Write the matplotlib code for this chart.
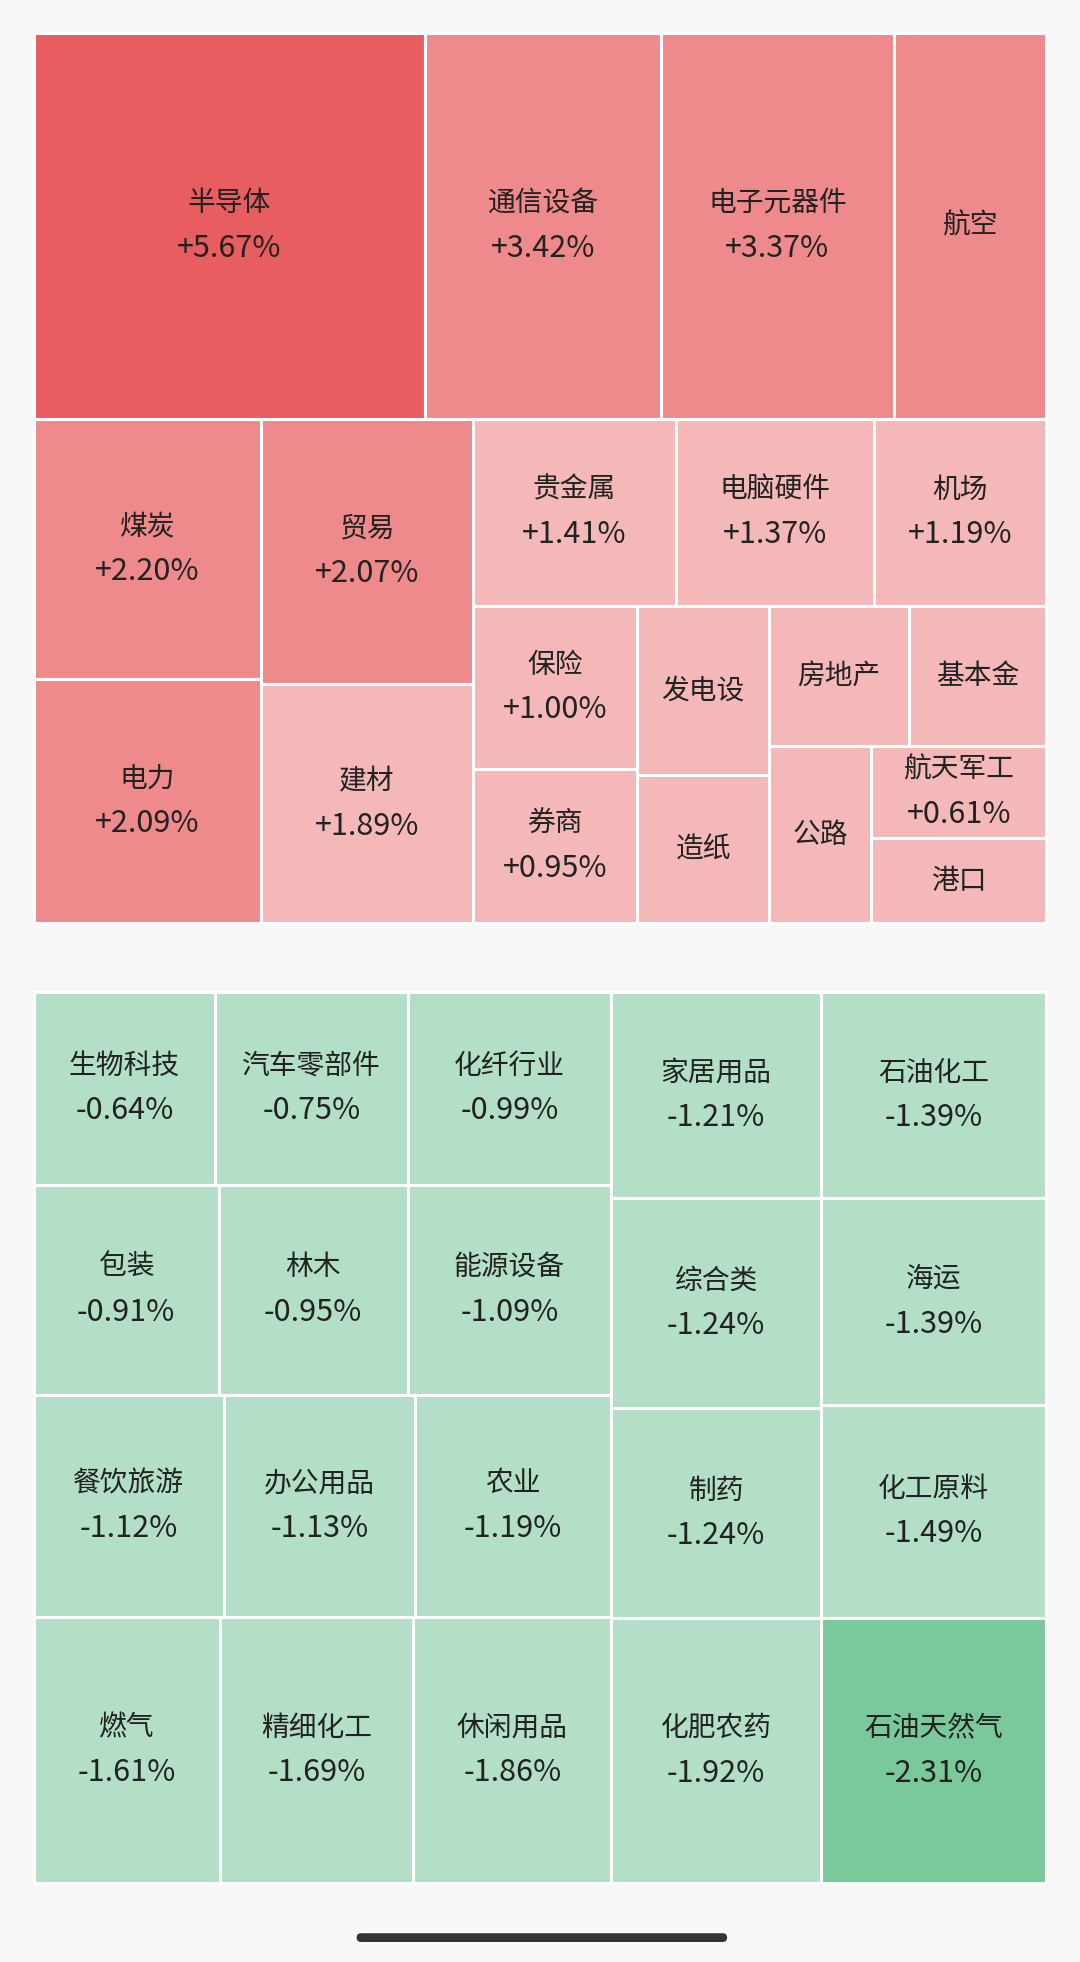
import matplotlib
matplotlib.use("Agg")
import matplotlib.pyplot as plt
from matplotlib.patches import Rectangle, FancyBboxPatch

plt.rcParams['font.family'] = ['Noto Sans CJK SC', 'DejaVu Sans']

# ---- data (leaf order follows layout traversal) ----
top_names = ["半导体","通信设备","电子元器件","航空",
             "煤炭","电力","贸易","建材",
             "贵金属","电脑硬件","机场",
             "保险","券商","发电设","造纸","房地产","基本金","公路","航天军工","港口"]
top_pcts = ["+5.67%","+3.42%","+3.37%","",
            "+2.20%","+2.09%","+2.07%","+1.89%",
            "+1.41%","+1.37%","+1.19%",
            "+1.00%","+0.95%","","","","","","+0.61%",""]
top_level = [2,1,1,1, 1,1,1,0, 0,0,0, 0,0,0,0,0,0,0,0,0]

bot_names = ["生物科技","汽车零部件","化纤行业",
             "包装","林木","能源设备",
             "餐饮旅游","办公用品","农业",
             "燃气","精细化工","休闲用品",
             "家居用品","综合类","制药","化肥农药",
             "石油化工","海运","化工原料","石油天然气"]
bot_pcts = ["-0.64%","-0.75%","-0.99%",
            "-0.91%","-0.95%","-1.09%",
            "-1.12%","-1.13%","-1.19%",
            "-1.61%","-1.69%","-1.86%",
            "-1.21%","-1.24%","-1.24%","-1.92%",
            "-1.39%","-1.39%","-1.49%","-2.31%"]
bot_level = [0]*19 + [1]

# layout weight trees: ('v'|'h', [(weight, child)]) ; None = leaf
top_tree = ('v', [(309, ('h', [(313,None),(189,None),(186,None),(122,None)])),
                  (404, ('h', [(182, ('v', [(208,None),(196,None)])),
                               (169, ('v', [(212,None),(192,None)])),
                               (459, ('v', [(150, ('h', [(163,None),(158,None),(138,None)])),
                                            (254, ('h', [(132, ('v', [(130,None),(124,None)])),
                                                         (105, ('v', [(135,None),(119,None)])),
                                                         (222, ('v', [(112, ('h', [(112,None),(110,None)])),
                                                                      (142, ('h', [(82,None),
                                                                                   (140, ('v', [(74,None),(68,None)]))]))]))]))]))]))])
bot_tree = ('h', [(462, ('v', [(154, ('h', [(145,None),(154,None),(163,None)])),
                               (168, ('h', [(148,None),(151,None),(163,None)])),
                               (178, ('h', [(152,None),(153,None),(157,None)])),
                               (213, ('h', [(149,None),(154,None),(158,None)]))])),
                  (168, ('v', [(165,None),(168,None),(168,None),(212,None)])),
                  (180, ('v', [(165,None),(165,None),(171,None),(212,None)]))])

red_cols = ["#f4b8b9", "#ee8a8c", "#e85d60"]
green_cols = ["#b3dfc6", "#79c99a"]

def layout(node, x, y, w, h, out):
    if node is None:
        out.append((x, y, w, h)); return
    d, kids = node
    tot = sum(k[0] for k in kids)
    pos = 0
    for wt, ch in kids:
        f = wt / tot
        if d == 'h':
            layout(ch, x + pos*w, y, w*f, h, out)
        else:
            layout(ch, x, y + pos*h, w, h*f, out)
        pos += f

S = 1080/863
fig = plt.figure(figsize=(10.8, 19.62), dpi=100)
fig.patch.set_facecolor("#f7f7f7")
ax = fig.add_axes([0, 0, 1, 1])
ax.set_xlim(0, 863); ax.set_ylim(1568, 0); ax.axis('off')

def draw(tree, box, names, pcts, levels, cols):
    rects = []
    layout(tree, *box, rects)
    for (x, y, w, h), n, p, lv in zip(rects, names, pcts, levels):
        ax.add_patch(Rectangle((x, y), w, h, facecolor=cols[lv], edgecolor="white", lw=2.2))
        cx, cy = x + w/2, y + h/2
        if p:
            ax.text(cx, cy - 18, n, ha='center', va='center', fontsize=20, color="#222")
            ax.text(cx, cy + 18, p, ha='center', va='center', fontsize=22, color="#222")
        else:
            ax.text(cx, cy, n, ha='center', va='center', fontsize=20, color="#222")

draw(top_tree, (27, 26, 809, 712), top_names, top_pcts, top_level, red_cols)
draw(bot_tree, (27, 793, 809, 712), bot_names, bot_pcts, bot_level, green_cols)

ax.add_patch(FancyBboxPatch((285, 1545), 296, 7, boxstyle="round,pad=0,rounding_size=3.5",
                            facecolor="#333333", edgecolor="none"))
fig.savefig("out.png", dpi=100, facecolor=fig.get_facecolor())
